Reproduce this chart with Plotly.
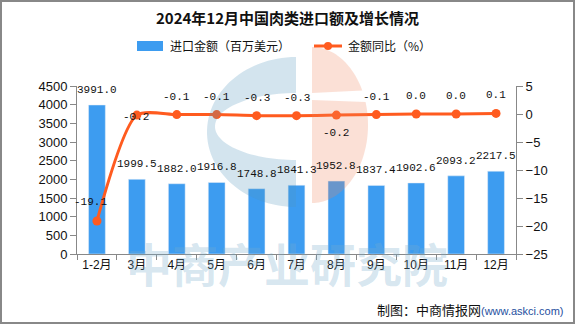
import numpy as np
import plotly.graph_objects as go

# ---- data ----
categories = ["1-2月", "3月", "4月", "5月", "6月", "7月", "8月", "9月", "10月", "11月", "12月"]
import_value = [3991.0, 1999.5, 1882.0, 1916.8, 1748.8, 1841.3, 1952.8, 1837.4, 1902.6, 2093.2, 2217.5]
yoy_growth = [-19.1, -0.2, -0.1, -0.1, -0.3, -0.3, -0.2, -0.1, 0.0, 0.0, 0.1]
left_ticks = [0, 500, 1000, 1500, 2000, 2500, 3000, 3500, 4000, 4500]
right_ticks = [-25, -20, -15, -10, -5, 0, 5]

title_text = "2024年12月中国肉类进口额及增长情况"
bar_name = "进口金额（百万美元）"
line_name = "金额同比（%）"

# ---- style ----
W, H = 575, 324
ML, MR, MT, MB = 77, 59, 86, 70
PW, PH = W - ML - MR, H - MT - MB
BAR_C = "#3d9cf0"
LINE_C = "#ff5b1f"
AX_C = "#888888"
CJK = "Noto Sans CJK SC"
NUMF = "Liberation Mono"


def px(x):
    return (x - ML) / PW


def py(y):
    return 1 - (y - MT) / PH


fig = go.Figure()
fig.add_trace(go.Bar(x=categories, y=import_value, marker_color=BAR_C, name=bar_name,
                     showlegend=False))
fig.add_trace(go.Scatter(x=categories, y=yoy_growth, yaxis="y2", mode="lines+markers",
                         line=dict(color=LINE_C, width=3, shape="spline", smoothing=0.7),
                         marker=dict(color=LINE_C, size=9), name=line_name, showlegend=False))

annotations = []
# bar value labels
for c, v in zip(categories, import_value):
    annotations.append(dict(x=c, y=v, xref="x", yref="y", text=f"{v:.1f}", showarrow=False,
                            yanchor="middle", yshift=15,
                            font=dict(family=NUMF, size=11, color="#111")))
# line value labels
shifts = {0: (-6, 19), 1: (-1, -2), 6: (0, -18)}
for i, (c, v) in enumerate(zip(categories, yoy_growth)):
    xs, ys = shifts.get(i, (0, 18))
    annotations.append(dict(x=c, y=v, xref="x", yref="y2", text=f"{v:.1f}", showarrow=False,
                            yanchor="middle", xshift=xs, yshift=ys,
                            font=dict(family=NUMF, size=11, color="#111")))

# legend (drawn)
annotations.append(dict(x=px(168), y=py(46), xref="paper", yref="paper", text=bar_name,
                        showarrow=False, xanchor="left", yanchor="middle",
                        font=dict(family=CJK, size=12, color="#111")))
annotations.append(dict(x=px(346), y=py(46), xref="paper", yref="paper", text=line_name,
                        showarrow=False, xanchor="left", yanchor="middle",
                        font=dict(family=CJK, size=12, color="#111")))
# watermark text
annotations.append(dict(x=px(287), y=py(262), xref="paper", yref="paper", text="<b>中商产业研究院</b>",
                        showarrow=False, xanchor="center", yanchor="middle",
                        font=dict(family=CJK, size=46, color="rgba(118,172,205,0.3)")))
# credit
annotations.append(dict(x=px(566), y=py(309), xref="paper", yref="paper",
                        text="制图：中商情报网<span style='font-size:11px;color:#1f4fa0;font-family:Liberation Sans'>(www.askci.com)</span>",
                        showarrow=False, xanchor="right", yanchor="middle",
                        font=dict(family=CJK, size=13, color="#111")))


def path_from(points):
    s = "M " + " L ".join(f"{px(a):.5f},{py(b):.5f}" for a, b in points) + " Z"
    return s


# logo blue "C"
t = np.linspace(np.pi / 2, 3 * np.pi / 2, 60)
outer = [(296 + 89 * np.cos(a), 132 - 75 * np.sin(a)) for a in t]
inner = [(296 + 81 * np.cos(a), 126.5 - 33.5 * np.sin(a)) for a in t[::-1]]
blue_path = path_from(outer + inner)
# salmon half disc split by a white band
ts = np.linspace(-np.pi / 2, np.pi / 2, 80)
cx, cy, rx, ry = 312, 125, 56, 78
pts = [(cx + rx * np.cos(a), cy - ry * np.sin(a)) for a in ts]
top_pts = [p for p in pts if p[1] <= 93]
bot_pts = [p for p in pts if p[1] >= 100]
sal_top = path_from([(cx, 93)] + sorted(top_pts, key=lambda p: -p[1]) + [(cx, cy - ry)])
sal_bot = path_from([(cx, cy + ry)] + sorted(bot_pts, key=lambda p: -p[1]) + [(cx, 100)])

shapes = [
    dict(type="path", path=blue_path, xref="paper", yref="paper", layer="above",
         fillcolor="rgba(79,147,187,0.25)", line=dict(width=0)),
    dict(type="path", path=sal_top, xref="paper", yref="paper", layer="above",
         fillcolor="rgba(239,131,91,0.25)", line=dict(width=0)),
    dict(type="path", path=sal_bot, xref="paper", yref="paper", layer="above",
         fillcolor="rgba(239,131,91,0.25)", line=dict(width=0)),
    # legend symbols
    dict(type="rect", xref="paper", yref="paper", x0=px(137), x1=px(163), y0=py(51), y1=py(41),
         fillcolor=BAR_C, line=dict(width=0)),
    dict(type="line", xref="paper", yref="paper", x0=px(314), x1=px(342), y0=py(46), y1=py(46),
         line=dict(color=LINE_C, width=3)),
    dict(type="circle", xref="paper", yref="paper", x0=px(324), x1=px(332), y0=py(50), y1=py(42),
         fillcolor=LINE_C, line=dict(width=0)),
    # outer frame
    dict(type="rect", xref="paper", yref="paper", x0=px(1), x1=px(574), y0=py(323), y1=py(1),
         line=dict(color=AX_C, width=2), fillcolor="rgba(0,0,0,0)"),
]

fig.update_layout(
    width=W, height=H,
    margin=dict(l=ML, r=MR, t=MT, b=MB),
    paper_bgcolor="white", plot_bgcolor="white",
    title=dict(text="<b>" + title_text + "</b>", x=0.5, xanchor="center",
               y=1 - 19 / H, yanchor="middle",
               font=dict(family=CJK, size=15, color="#111")),
    bargap=0.58,
    showlegend=False,
    xaxis=dict(type="category", range=[-0.5, len(categories) - 0.5], autorange=False,
               showline=True, linecolor=AX_C, linewidth=1,
               ticks="outside", tickson="boundaries", ticklen=5, tickcolor=AX_C,
               showgrid=False, tickfont=dict(family="Liberation Sans, " + CJK, size=12, color="#111")),
    yaxis=dict(range=[0, 4500], tickvals=left_ticks, showline=True, linecolor=AX_C, linewidth=1,
               ticks="outside", ticklen=6, tickcolor=AX_C, showgrid=False, zeroline=False,
               tickfont=dict(family="Liberation Sans", size=13, color="#111")),
    yaxis2=dict(range=[-25, 5], tickvals=right_ticks, overlaying="y", side="right",
                showline=True, linecolor=AX_C, linewidth=1, ticks="outside", ticklen=6,
                tickcolor=AX_C, showgrid=False, zeroline=False,
                tickfont=dict(family="Liberation Sans", size=13, color="#111")),
    annotations=annotations,
    shapes=shapes,
)

fig.write_html("out.html")
